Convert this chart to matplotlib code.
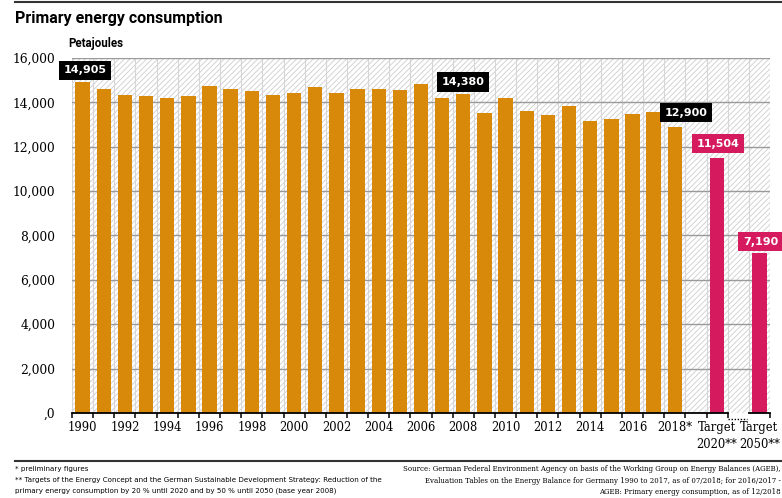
import matplotlib
matplotlib.use("Agg")
import matplotlib.pyplot as plt
from matplotlib.lines import Line2D

years = list(range(1990, 2019))
values = [14905, 14610, 14319, 14309, 14185, 14269, 14746, 14614, 14521, 14323,
          14401, 14679, 14427, 14600, 14591, 14558, 14837, 14179, 14380, 13531,
          14217, 13599, 13447, 13822, 13180, 13262, 13491, 13550, 12900]
target_labels = ["Target\n2020**", "Target\n2050**"]
target_values = [11504, 7190]
highlight_years = [1990, 2008, 2018]
yticks = [0, 2000, 4000, 6000, 8000, 10000, 12000, 14000, 16000]
ytick_labels = [",0", "2,000", "4,000", "6,000", "8,000", "10,000", "12,000", "14,000", "16,000"]

ORANGE = "#d9890a"
PINK = "#d51a5d"

plt.rcParams['hatch.color'] = '#cdcdcd'
plt.rcParams['hatch.linewidth'] = 0.6

fig = plt.figure(figsize=(7.82, 4.98), dpi=100)
ax = fig.add_axes([72/782, 1-413/498, (770-72)/782, (413-58)/498])

xs = list(range(len(years)))
tx = [len(years) + 1, len(years) + 3]

ax.patch.set_facecolor('white')
ax.patch.set_hatch('//////')
ax.patch.set_edgecolor('#cdcdcd')
ax.patch.set_linewidth(0)

ax.set_xlim(-0.5, tx[-1] + 0.5)
ax.set_ylim(0, 16000)

# grid
for b in [i - 0.5 for i in range(tx[-1] + 2)]:
    ax.axvline(b, color='#d6d6d6', lw=0.8, zorder=1)
for y in yticks[1:]:
    ax.axhline(y, color='#9a9a9a', lw=1.0, zorder=1.5)

ax.bar(xs, values, width=0.68, color=ORANGE, zorder=3)
ax.bar(tx, target_values, width=0.68, color=PINK, zorder=3)

# value labels
def label(x, y, text, color, dx=0.0, off=4):
    ax.annotate(text, (x + dx, y), xytext=(0, off), textcoords='offset points',
                ha='center', va='bottom', fontsize=8, fontweight='bold', color='white',
                family='DejaVu Sans',
                bbox=dict(boxstyle='square,pad=0.42', fc=color, ec='none'), zorder=5)

for yr in highlight_years:
    i = years.index(yr)
    dx = 0.1 if yr == 1990 else (0.52 if yr == 2018 else 0)
    label(xs[i], values[i], f"{values[i]:,}", 'black', dx, 5 if yr != 2018 else 6.5)
for x, v in zip(tx, target_values):
    label(x, v, f"{v:,}", PINK, 0.05, 6.5 if v > 8000 else 5)

for s in ['top', 'right', 'left', 'bottom']:
    ax.spines[s].set_visible(False)

# x axis with break
ax.add_line(Line2D([-0.5, tx[0] + 0.5], [0, 0], color='black', lw=1.3, zorder=6, clip_on=False))
ax.add_line(Line2D([tx[1] - 0.5, tx[1] + 0.5], [0, 0], color='black', lw=1.3, zorder=6, clip_on=False))
ax.plot([tx[0] + 0.5, tx[1] - 0.6], [-280, -280], color='black', lw=1.0, ls=(0, (1, 1.2)),
        zorder=6, clip_on=False)

ax.set_xticks([b - 0.5 for b in range(tx[0] + 2)] + [tx[1] + 0.5])
ax.set_xticklabels([])
ax.tick_params(axis='x', which='major', length=3.5, width=1.1, direction='out', color='black')
minor_pos = [xs[i] for i in range(0, len(years), 2)] + tx
minor_lab = [str(years[i]) + ('*' if years[i] == 2018 else '') for i in range(0, len(years), 2)] + target_labels
ax.set_xticks(minor_pos, minor=True)
ax.set_xticklabels(minor_lab, minor=True, fontsize=8.3, family='DejaVu Serif', linespacing=1.35)
ax.tick_params(axis='x', which='minor', length=0, pad=6)

ax.set_yticks(yticks)
ax.set_yticklabels(ytick_labels, fontsize=8.8, family='DejaVu Serif')
ax.tick_params(axis='y', length=0, pad=12)

# texts
fig.add_artist(Line2D([15/782, 1], [1-2/498, 1-2/498], color='#333333', lw=1.5))
fig.text(15/782, 1-18/498, "Primary energy consumption", fontsize=11.5, fontweight='bold',
         va='center', ha='left', family='Roboto')
fig.text(68/782, 1-44/498, "Petajoules", fontsize=8.3, fontweight='bold', va='center', ha='left',
         family='Roboto')

fig.add_artist(Line2D([15/782, 1], [1-461/498, 1-461/498], color='#333333', lw=1.5))
fs = 5.1
fig.text(15/782, 1-469/498, "* preliminary figures", fontsize=fs, va='center', ha='left')
fig.text(15/782, 1-480/498, "** Targets of the Energy Concept and the German Sustainable Development Strategy: Reduction of the",
         fontsize=fs, va='center', ha='left')
fig.text(15/782, 1-491/498, "primary energy consumption by 20 % until 2020 and by 50 % until 2050 (base year 2008)",
         fontsize=fs, va='center', ha='left')
src = ["Source: German Federal Environment Agency on basis of the Working Group on Energy Balances (AGEB),",
       "Evaluation Tables on the Energy Balance for Germany 1990 to 2017, as of 07/2018; for 2016/2017 -",
       "AGEB: Primary energy consumption, as of 12/2018"]
for k, line in enumerate(src):
    fig.text(781/782, 1-(469 + 11.5*k)/498, line, fontsize=5.0, va='center', ha='right',
             family='DejaVu Serif')

fig.savefig("out.png", dpi=100)
